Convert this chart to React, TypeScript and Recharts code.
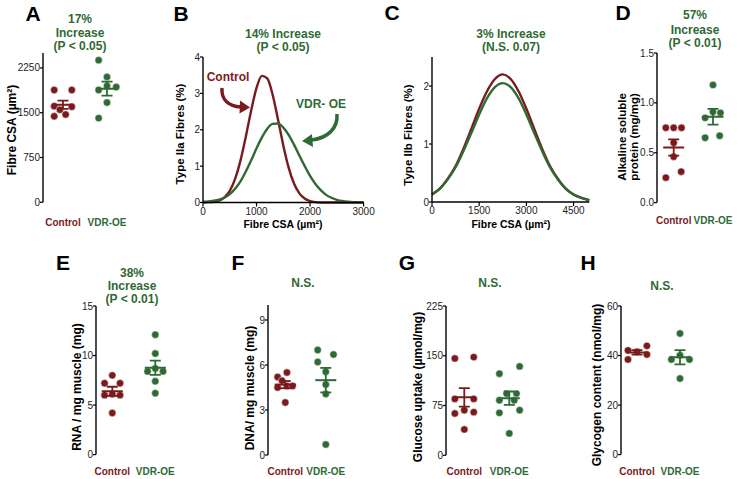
import React from 'react';
import { ScatterChart, Scatter, XAxis, YAxis, LineChart, Line } from 'recharts';

const RED = '#7a1a1d';
const GREEN = '#2f6a34';
const FONT = '"Liberation Sans", Arial, Helvetica, sans-serif';

const groupNames = ['Control', 'VDR-OE'];

// A - fibre CSA
const aControl = [1880, 1880, 1610, 1550, 1600, 1440, 1470];
const aControlJitter = [-0.2, 0.2, -0.2, -0.07, 0.2, -0.2, 0.06];
const aVdr = [2380, 2100, 1950, 1930, 1880, 1670, 1410];
const aVdrJitter = [-0.19, 0, 0, 0.21, -0.19, 0, -0.19];
const aTicks = [0, 750, 1500, 2250];

// B - type IIa distribution
const bSizes = [0, 100, 200, 300, 400, 500, 600, 700, 800, 900, 1000, 1100, 1200, 1300, 1400, 1500,
  1600, 1700, 1800, 1900, 2000, 2100, 2200, 2300, 2400, 2500, 2600, 2700, 2800, 2900, 3000];
const bControl = [0, 0.01, 0.02, 0.05, 0.14, 0.32, 0.65, 1.15, 1.81, 2.53, 3.15, 3.48, 3.41, 2.97, 2.29, 1.57,
  0.96, 0.52, 0.25, 0.11, 0.04, 0.01, 0, 0, 0, 0, 0, 0, 0, 0, 0];
const bVdr = [0.02, 0.03, 0.05, 0.08, 0.13, 0.23, 0.38, 0.58, 0.85, 1.16, 1.49, 1.79, 2.03, 2.16, 2.17, 2.06,
  1.86, 1.59, 1.29, 1.0, 0.73, 0.51, 0.34, 0.21, 0.13, 0.07, 0.04, 0.02, 0.01, 0.01, 0];
const bXTicks = [0, 1000, 2000, 3000];
const bYTicks = [0, 1, 2, 3, 4];

// C - type IIb distribution
const cSizes = [0, 250, 500, 750, 1000, 1250, 1500, 1750, 2000, 2250, 2500, 2750, 3000, 3250, 3500, 3750,
  4000, 4250, 4500, 4750, 5000];
const cControl = [0.13, 0.23, 0.4, 0.62, 0.92, 1.26, 1.61, 1.91, 2.12, 2.2, 2.12, 1.91, 1.61, 1.26, 0.92, 0.62,
  0.4, 0.23, 0.13, 0.07, 0.03];
const cVdr = [0.13, 0.23, 0.39, 0.6, 0.88, 1.19, 1.51, 1.79, 1.98, 2.05, 1.98, 1.79, 1.51, 1.19, 0.88, 0.6,
  0.39, 0.23, 0.13, 0.07, 0.03];
const cXTicks = [0, 1500, 3000, 4500];
const cYTicks = [0, 1, 2];

// D - alkaline soluble protein
const dControl = [0.75, 0.75, 0.75, 0.6, 0.46, 0.25, 0.31];
const dControlJitter = [-0.2, 0, 0.2, 0, 0, -0.2, 0.19];
const dVdr = [1.18, 0.85, 0.91, 0.9, 0.65, 0.67];
const dVdrJitter = [0, -0.2, 0, 0.19, -0.2, 0.17];
const dTicks = [0, 0.5, 1.0, 1.5];

// E - RNA
const eControl = [8.0, 7.2, 7.2, 6.0, 6.1, 6.0, 4.2];
const eControlJitter = [0, -0.18, 0.18, -0.18, 0, 0.18, 0];
const eVdr = [12.1, 10.2, 8.4, 8.7, 8.4, 7.4, 6.2];
const eVdrJitter = [0, 0, -0.18, 0, 0.18, 0, 0];
const eTicks = [0, 5, 10, 15];

// F - DNA
const fControl = [5.2, 5.5, 4.95, 4.5, 4.6, 4.6, 3.5];
const fControlJitter = [-0.19, 0.04, -0.08, -0.19, 0.04, 0.18, 0];
const fVdr = [7.0, 6.7, 6.2, 5.55, 4.7, 4.07, 0.7];
const fVdrJitter = [-0.2, 0.19, -0.2, 0, 0, 0, 0];
const fTicks = [0, 3, 6, 9];

// G - glucose uptake
const gControl = [146, 148, 85, 85, 68, 63, 65, 39];
const gControlJitter = [-0.21, 0.21, -0.21, 0.21, 0, -0.21, 0.21, 0];
const gVdr = [123, 134, 93, 93, 83, 83, 68, 64, 33];
const gVdrJitter = [-0.22, 0.23, -0.06, 0.16, -0.22, 0.11, 0.23, -0.22, 0];
const gTicks = [0, 75, 150, 225];

// H - glycogen
const hControl = [42.1, 41.5, 43.9, 38.4, 40.4];
const hControlJitter = [-0.21, 0, 0.23, -0.21, 0.23];
const hVdr = [48.9, 40.1, 38.4, 38.4, 30.7];
const hVdrJitter = [0, 0, -0.2, 0.22, 0];
const hTicks = [0, 20, 40, 60];

function meanSem(v: number[]) {
  const m = v.reduce((s, x) => s + x, 0) / v.length;
  const sd = Math.sqrt(v.reduce((s, x) => s + (x - m) ** 2, 0) / (v.length - 1));
  return { m, sem: sd / Math.sqrt(v.length) };
}

const axisStyle = { stroke: '#000', strokeWidth: 1.4 };
const tickLineStyle = { stroke: '#000', strokeWidth: 1.2 };
const tickStyle = { fontSize: 10, fill: '#222', fontFamily: FONT };

interface DotPanelProps {
  axisX: number;
  top: number;
  bottom: number;
  c1: number;
  c2: number;
  yMax: number;
  yTicks: number[];
  ctrl: number[];
  ctrlJit: number[];
  vdr: number[];
  vdrJit: number[];
  labelY: number;
  fmt?: (v: number) => string;
}

function DotPanel(p: DotPanelProps) {
  const unit = p.c2 - p.c1;
  const gap = (p.c1 - p.axisX) / unit;
  const xMin = 1 - gap;
  const xMax = 2 + gap;
  const yW = 40;
  const mTop = 6;
  const mRight = 4;
  const xH = 30;
  const width = yW + unit * (xMax - xMin) + mRight;
  const height = mTop + (p.bottom - p.top) + xH;
  const left = p.axisX - yW;
  const top = p.top - mTop;

  // dots, then SEM bar with caps, then the mean line
  const group = (vals: number[], jit: number[], c: number, color: string) => {
    const { m, sem } = meanSem(vals);
    return [
      <Scatter
        key={'p' + c}
        data={vals.map((v, i) => ({ x: c + jit[i], y: v }))}
        isAnimationActive={false}
        shape={(s: any) => <circle cx={s.cx} cy={s.cy} r={3.7} fill={color} stroke="#fff" strokeWidth={0.5} />}
      />,
      <Scatter
        key={'e' + c}
        data={[{ x: c, y: m - sem }, { x: c, y: m + sem }]}
        line={{ stroke: color, strokeWidth: 1.8 }}
        isAnimationActive={false}
        shape={(s: any) => (
          <line x1={s.cx - 5.5} x2={s.cx + 5.5} y1={s.cy} y2={s.cy} stroke={color} strokeWidth={1.8} />
        )}
      />,
      <Scatter
        key={'m' + c}
        data={[{ x: c, y: m }]}
        isAnimationActive={false}
        shape={(s: any) => (
          <line x1={s.cx - 10.5} x2={s.cx + 10.5} y1={s.cy} y2={s.cy} stroke={color} strokeWidth={2} />
        )}
      />,
    ];
  };

  return (
    <div style={{ position: 'absolute', left, top }}>
      <ScatterChart width={width} height={height} margin={{ top: mTop, right: mRight, left: 0, bottom: 0 }}>
        <XAxis
          type="number"
          dataKey="x"
          domain={[xMin, xMax]}
          ticks={[1, 2]}
          interval={0}
          allowDataOverflow
          axisLine={false}
          tickLine={false}
          height={xH}
          tick={(t: any) => (
            <text
              x={t.x}
              y={p.labelY - top}
              textAnchor="middle"
              dominantBaseline="central"
              fontFamily={FONT}
              fontWeight="bold"
              fontSize={10}
              fill={t.payload.value === 1 ? RED : GREEN}
            >
              {groupNames[t.payload.value - 1]}
            </text>
          )}
        />
        <YAxis
          type="number"
          dataKey="y"
          domain={[0, p.yMax]}
          ticks={p.yTicks}
          interval={0}
          allowDataOverflow
          width={yW}
          axisLine={axisStyle}
          tickLine={tickLineStyle}
          tickSize={3}
          tickMargin={0}
          tick={tickStyle}
          tickFormatter={p.fmt}
        />
        {group(p.ctrl, p.ctrlJit, 1, RED)}
        {group(p.vdr, p.vdrJit, 2, GREEN)}
      </ScatterChart>
    </div>
  );
}

interface CurvePanelProps {
  axisX: number;
  top: number;
  bottom: number;
  right: number;
  sizes: number[];
  ctrl: number[];
  vdr: number[];
  xMax: number;
  xTicks: number[];
  yMax: number;
  yTicks: number[];
}

function CurvePanel(p: CurvePanelProps) {
  const yW = 30;
  const mTop = 6;
  const mRight = 18;
  const xH = 22;
  const data = p.sizes.map((s, i) => ({ size: s, control: p.ctrl[i], vdr: p.vdr[i] }));
  return (
    <div style={{ position: 'absolute', left: p.axisX - yW, top: p.top - mTop }}>
      <LineChart
        width={yW + (p.right - p.axisX) + mRight}
        height={mTop + (p.bottom - p.top) + xH}
        data={data}
        margin={{ top: mTop, right: mRight, left: 0, bottom: 0 }}
      >
        <XAxis
          type="number"
          dataKey="size"
          domain={[0, p.xMax]}
          ticks={p.xTicks}
          interval={0}
          height={xH}
          axisLine={axisStyle}
          tickLine={tickLineStyle}
          tickSize={4}
          tickMargin={1}
          tick={tickStyle}
        />
        <YAxis
          type="number"
          domain={[0, p.yMax]}
          ticks={p.yTicks}
          interval={0}
          width={yW}
          axisLine={axisStyle}
          tickLine={tickLineStyle}
          tickSize={3}
          tickMargin={0}
          tick={tickStyle}
        />
        <Line type="monotone" dataKey="control" stroke={RED} strokeWidth={2.4} dot={false} isAnimationActive={false} />
        <Line type="monotone" dataKey="vdr" stroke={GREEN} strokeWidth={2.4} dot={false} isAnimationActive={false} />
      </LineChart>
    </div>
  );
}

const txt = (x: number, y: number, s: string, size: number, fill: string, rotate = false, key?: string) => (
  <text
    key={key ?? s + x + y}
    x={x}
    y={y}
    textAnchor="middle"
    dominantBaseline="central"
    fontFamily={FONT}
    fontWeight="bold"
    fontSize={size}
    fill={fill}
    transform={rotate ? `rotate(-90 ${x} ${y})` : undefined}
  >
    {s}
  </text>
);

export default function App() {
  return (
    <div style={{ position: 'absolute', left: 0, top: 0, width: 745, height: 479, background: '#fff', overflow: 'hidden' }}>
      <DotPanel axisX={43} top={52.7} bottom={202} c1={63} c2={107} yMax={2500} yTicks={aTicks}
        ctrl={aControl} ctrlJit={aControlJitter} vdr={aVdr} vdrJit={aVdrJitter} labelY={222} />
      <CurvePanel axisX={202.7} top={57} bottom={202.5} right={363.3} sizes={bSizes} ctrl={bControl} vdr={bVdr}
        xMax={3000} xTicks={bXTicks} yMax={4} yTicks={bYTicks} />
      <CurvePanel axisX={432.3} top={56.7} bottom={201.7} right={589.6} sizes={cSizes} ctrl={cControl} vdr={cVdr}
        xMax={5000} xTicks={cXTicks} yMax={2.5} yTicks={cYTicks} />
      <DotPanel axisX={657.3} top={52.7} bottom={202.3} c1={674} c2={713.3} yMax={1.5} yTicks={dTicks}
        ctrl={dControl} ctrlJit={dControlJitter} vdr={dVdr} vdrJit={dVdrJitter} labelY={220}
        fmt={(v) => v.toFixed(1)} />
      <DotPanel axisX={95.7} top={305.7} bottom={454.3} c1={112} c2={155} yMax={15} yTicks={eTicks}
        ctrl={eControl} ctrlJit={eControlJitter} vdr={eVdr} vdrJit={eVdrJitter} labelY={471.5} />
      <DotPanel axisX={267.7} top={305} bottom={455} c1={285} c2={325.5} yMax={10} yTicks={fTicks}
        ctrl={fControl} ctrlJit={fControlJitter} vdr={fVdr} vdrJit={fVdrJitter} labelY={471.5} />
      <DotPanel axisX={445.7} top={305.7} bottom={455} c1={464} c2={509} yMax={225} yTicks={gTicks}
        ctrl={gControl} ctrlJit={gControlJitter} vdr={gVdr} vdrJit={gVdrJitter} labelY={471.5} />
      <DotPanel axisX={621} top={305.7} bottom={454.3} c1={637} c2={680} yMax={60} yTicks={hTicks}
        ctrl={hControl} ctrlJit={hControlJitter} vdr={hVdr} vdrJit={hVdrJitter} labelY={471} />

      <svg width={745} height={479} style={{ position: 'absolute', left: 0, top: 0, pointerEvents: 'none' }}>
        {/* panel letters */}
        {txt(33, 13, 'A', 21, '#000')}
        {txt(181, 13, 'B', 21, '#000')}
        {txt(392, 12, 'C', 21, '#000')}
        {txt(623, 12, 'D', 21, '#000')}
        {txt(63, 262, 'E', 21, '#000')}
        {txt(238, 262, 'F', 21, '#000')}
        {txt(407, 262, 'G', 21, '#000')}
        {txt(588, 262, 'H', 21, '#000')}

        {/* significance notes */}
        {txt(80, 19, '17%', 12, GREEN)}
        {txt(80, 32.5, 'Increase', 12, GREEN)}
        {txt(80, 46, '(P < 0.05)', 12, GREEN)}
        {txt(283, 33.5, '14% Increase', 12, GREEN)}
        {txt(283, 47, '(P < 0.05)', 12, GREEN)}
        {txt(511, 33.5, '3% Increase', 12, GREEN)}
        {txt(511, 47, '(N.S. 0.07)', 12, GREEN)}
        {txt(695, 15, '57%', 12, GREEN)}
        {txt(695, 29.5, 'Increase', 12, GREEN)}
        {txt(695, 43, '(P < 0.01)', 12, GREEN)}
        {txt(132, 273, '38%', 12, GREEN)}
        {txt(132, 285.5, 'Increase', 12, GREEN)}
        {txt(132, 298.5, '(P < 0.01)', 12, GREEN)}
        {txt(303, 283, 'N.S.', 12, GREEN)}
        {txt(490, 283, 'N.S.', 12, GREEN)}
        {txt(662, 286, 'N.S.', 12, GREEN)}

        {/* axis titles */}
        {txt(12, 130, 'Fibre CSA (µm²)', 12, '#000', true)}
        {txt(180, 134, 'Type IIa Fibres (%)', 11.5, '#000', true)}
        {txt(408, 135, 'Type IIb Fibres (%)', 11.5, '#000', true)}
        {txt(621.5, 137, 'Alkaline soluble', 11.5, '#000', true)}
        {txt(633.5, 137, 'protein (mg/mg)', 11.5, '#000', true)}
        {txt(76.5, 387, 'RNA / mg muscle (mg)', 12, '#000', true)}
        {txt(250, 388, 'DNA/ mg muscle (mg)', 12, '#000', true)}
        {txt(418, 387, 'Glucose uptake (µmol/mg)', 12, '#000', true)}
        {txt(597, 385, 'Glycogen content (nmol/mg)', 12, '#000', true)}
        {txt(283, 224, 'Fibre CSA (µm²)', 10.5, '#000', false, 'bx')}
        {txt(511, 224, 'Fibre CSA (µm²)', 10.5, '#000', false, 'cx')}

        {/* curve callouts in B */}
        {txt(228, 77, 'Control', 12, RED)}
        {txt(321, 104, 'VDR- OE', 12, GREEN)}
        <path d="M222 88 C221 100 229 106 241 107" stroke={RED} strokeWidth={3.5} fill="none" />
        <polygon points="250,107.5 240,100.5 239.5,113.5" fill={RED} />
        <path d="M337 114 C338 129 327 138 312 140" stroke={GREEN} strokeWidth={3.5} fill="none" />
        <polygon points="302,141 312,134 313,147" fill={GREEN} />
      </svg>
    </div>
  );
}
